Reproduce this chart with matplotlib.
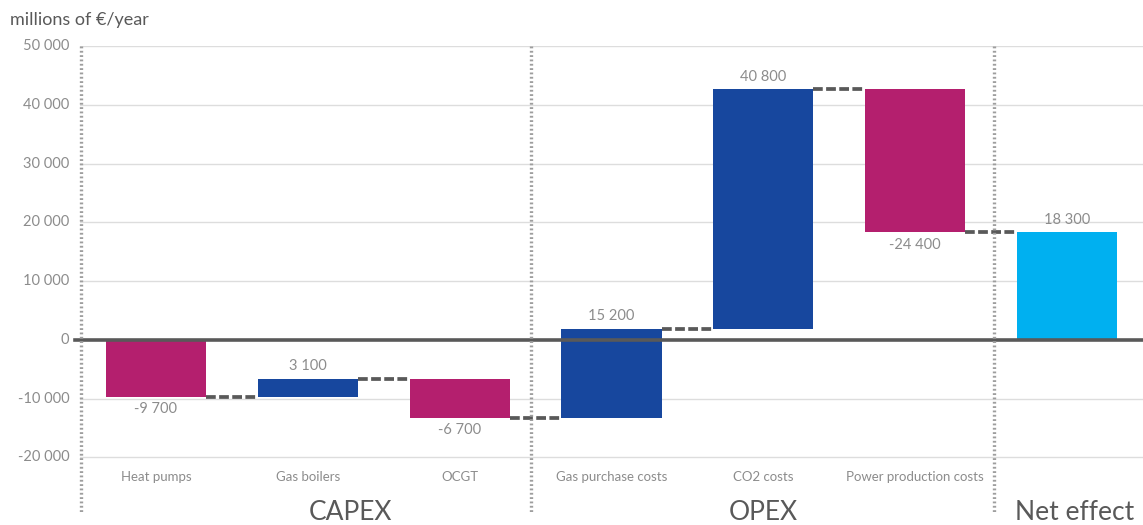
import matplotlib
matplotlib.use("Agg")
import matplotlib.pyplot as plt
import numpy as np

plt.rcParams['font.family'] = ['Lato', 'DejaVu Sans']

categories = ["Heat pumps", "Gas boilers", "OCGT", "Gas purchase costs",
              "CO2 costs", "Power production costs"]
changes = [-9700, 3100, -6700, 15200, 40800, -24400]
net_label = "Net effect"
groups = ["CAPEX", "OPEX", "Net effect"]
group_pos = [1.28, 4.0, 6.05]
yticks = [50000, 40000, 30000, 20000, 10000, 0, -10000, -20000]

magenta = "#B41F6E"
blue = "#17479E"
light = "#00B0F0"
dark = "#595959"
grey = "#8C8C8C"

def fmt(v):
    s = f"{abs(v):,}".replace(",", " ")
    return ("-" if v < 0 else "") + s

ends = np.cumsum(changes)
starts = ends - np.array(changes)
net = ends[-1]

fig = plt.figure(figsize=(11.43, 5.25), dpi=100)
ax = fig.add_axes([80/1143, 10/525, 1063/1143, 469/525])
ax.set_xlim(-0.5, 6.5)
ax.set_ylim(-29800, 50000)

w = 0.66
for i, (s, c) in enumerate(zip(starts, changes)):
    col = blue if c > 0 else magenta
    ax.bar(i, c, bottom=s, width=w, color=col, zorder=3)
    if c > 0:
        ax.text(i, s + c + 900, fmt(c), ha="center", va="bottom", color=grey, fontsize=10.5)
    else:
        ax.text(i, s + c - 900, fmt(c), ha="center", va="top", color=grey, fontsize=10.5)
ax.bar(6, net, width=w, color=light, zorder=3)
ax.text(6, net + 900, fmt(net), ha="center", va="bottom", color=grey, fontsize=10.5)

# connectors
for i, lv in enumerate(ends):
    ax.plot([i + w/2, i + 1 - w/2], [lv, lv], color=dark, lw=2.7,
            ls=(0, (2.6, 0.9)), zorder=4, solid_capstyle="butt")

# grid
for t in yticks:
    if t != 0:
        ax.axhline(t, color="#DDDDDD", lw=1, zorder=1)
    ax.text(-0.57, t, fmt(t), ha="right", va="center", color=grey, fontsize=10.5)
ax.plot([-0.53, 6.5], [0, 0], color=dark, lw=2.6, zorder=5, clip_on=False)

# separators
for xv in [-0.493, 2.47, 5.52]:
    ax.plot([xv, xv], [50000, -29300], color="#9E9E9E", lw=2.4, ls=(0, (0.55, 0.75)),
            zorder=6, clip_on=False)

for i, c in enumerate(categories):
    ax.text(i, -23400, c, ha="center", va="center", color=grey, fontsize=9.5)
for g, p in zip(groups, group_pos):
    ax.text(p, -29300, g, ha="center", va="center", color=dark, fontsize=19)

fig.text(10/1143, 1 - 20/525, "millions of €/year", ha="left", va="center",
         color=dark, fontsize=13)

ax.axis("off")
fig.savefig("out.png", dpi=100)
